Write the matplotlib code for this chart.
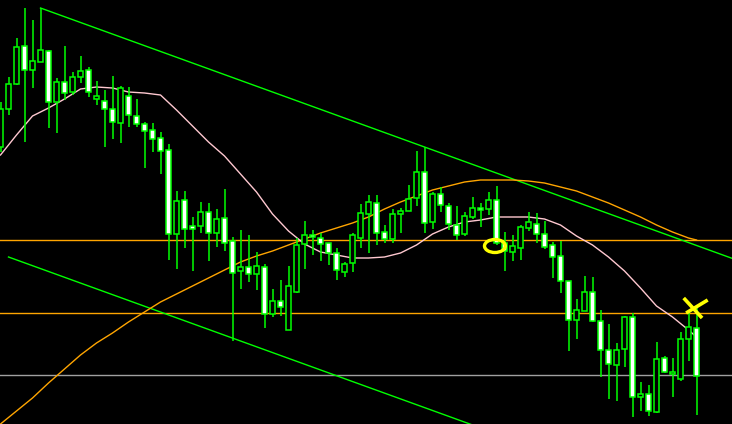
import numpy as np
import matplotlib
matplotlib.use("Agg")
import matplotlib.pyplot as plt
from matplotlib.patches import Ellipse

# candle data (points), oldest first
opens = [277, 315, 340, 378, 354, 362, 373, 322, 342, 332, 347, 354, 325, 323, 315, 301,
         328, 308, 300, 294, 286, 274, 190, 224, 198, 198, 212, 191, 206, 183, 153, 157,
         150, 157, 110, 123, 94, 132, 180, 189, 186, 181, 171, 152, 161, 186, 210, 221,
         192, 185, 210, 213, 226, 252, 202, 230, 218, 199, 190, 207, 216, 215, 224, 181,
         172, 176, 196, 200, 190, 179, 168, 143, 104, 113, 132, 103, 74, 59, 75, 107,
         27, 30, 12, 66, 50, 45, 85, 96]
highs = [322, 347, 386, 416, 404, 416, 374, 346, 378, 352, 368, 357, 343, 334, 348, 338,
         337, 325, 302, 301, 292, 280, 233, 233, 207, 222, 221, 215, 235, 187, 194, 189,
         172, 160, 135, 144, 158, 186, 203, 194, 191, 181, 176, 162, 191, 220, 229, 229,
         199, 215, 216, 239, 273, 277, 232, 237, 221, 218, 212, 227, 221, 232, 238, 192,
         189, 199, 212, 211, 203, 182, 183, 143, 125, 148, 147, 114, 100, 81, 108, 111,
         42, 39, 82, 68, 66, 92, 111, 119]
lows = [272, 309, 339, 282, 336, 362, 296, 291, 324, 329, 341, 327, 319, 277, 285, 281,
        297, 297, 256, 272, 250, 164, 155, 176, 153, 191, 163, 177, 173, 83, 135, 142,
        134, 96, 107, 108, 94, 131, 155, 169, 163, 159, 144, 147, 152, 176, 171, 179,
        181, 181, 191, 213, 218, 191, 195, 212, 194, 184, 188, 205, 197, 209, 179, 153,
        163, 164, 193, 181, 175, 146, 131, 73, 85, 113, 102, 47, 25, 23, 57, 7,
        13, 8, 11, 51, 27, 43, 63, 9]
closes = [315, 340, 377, 354, 363, 374, 322, 342, 331, 347, 353, 332, 328, 315, 302, 336,
          309, 300, 293, 285, 273, 190, 223, 195, 195, 212, 191, 205, 181, 151, 157, 150,
          158, 110, 123, 117, 138, 179, 189, 187, 180, 171, 154, 160, 189, 211, 222, 191,
          185, 210, 213, 225, 252, 201, 230, 219, 200, 189, 208, 216, 214, 224, 181, 173,
          178, 197, 202, 190, 177, 167, 143, 104, 114, 132, 103, 74, 60, 74, 107, 27,
          30, 13, 65, 52, 52, 85, 97, 48]

# moving averages (every second bar, plus the last one)
ma_bars = [0, 2, 4, 6, 8, 10, 12, 14, 16, 18, 20, 22, 24, 26, 28, 30, 32, 34, 36, 38, 40,
           42, 44, 46, 48, 50, 52, 54, 56, 58, 60, 62, 64, 66, 68, 70, 72, 74, 76, 78, 80,
           82, 84, 86, 87]
ma_fast = [269, 289, 308, 316, 325, 335, 337, 336, 332, 331, 329, 314, 298, 282, 268, 250,
           232, 210, 193, 180, 172, 169, 166, 166, 167, 171, 179, 190, 197, 202, 204, 207,
           207, 207, 205, 199, 188, 179, 167, 153, 136, 118, 107, 94, 87]
ma_slow = [0, 13, 26, 41, 55, 69, 81, 91, 102, 112, 122, 130, 138, 146, 154, 162, 168, 173,
           179, 185, 191, 196, 201, 207, 215, 222, 228, 234, 238, 242, 244, 244, 244, 243,
           241, 237, 233, 227, 221, 214, 207, 199, 192, 186, 184]

# horizontal levels
levels = [184, 111, 49]
level_colors = ["#FFA500", "#FFA500", "#A0A0A0"]

# channel: two points on the upper line, one point on the lower line
chan_top = [(5, 416), (53, 277)]
chan_low_start = (1, 167)

# markers
circle_at = (61.8, 178)
cross_a = [(85.4, 126), (87.7, 106)]
cross_b = [(88.4, 124), (85.7, 111)]

GREEN = "#00FF00"

fig = plt.figure(figsize=(7.32, 4.24), dpi=100, facecolor="black")
ax = fig.add_axes([0, 0, 1, 1])
ax.set_facecolor("black")
ax.set_axis_off()

x = np.arange(len(opens))
o = np.array(opens)
h = np.array(highs)
l = np.array(lows)
c = np.array(closes)

# levels
for lv, col in zip(levels, level_colors):
    ax.axhline(lv, color=col, linewidth=1, zorder=1)

# channel lines
(x0, y0), (x1, y1) = chan_top
slope = (y1 - y0) / (x1 - x0)
x_end = 100
ax.plot([x0, x_end], [y0, y0 + slope * (x_end - x0)], color=GREEN, linewidth=1, zorder=1)
lx, ly = chan_low_start
ax.plot([lx, x_end], [ly, ly + slope * (x_end - lx)], color=GREEN, linewidth=1, zorder=1)

# moving averages
ax.plot(ma_bars, ma_slow, color="#FFA500", linewidth=1, zorder=2)
ax.plot(ma_bars, ma_fast, color="#FFC8D0", linewidth=1, zorder=2)

# candles
ax.vlines(x, l, h, color=GREEN, linewidth=1.1, zorder=3)
bull = c >= o
body_lo = np.minimum(o, c)
body_h = np.maximum(np.abs(c - o), 1)
ax.bar(x, body_h, bottom=body_lo, width=0.55,
       color=np.where(bull, "black", "white"), edgecolor=GREEN, linewidth=1.1, zorder=4)

# yellow annotations
ax.add_patch(Ellipse(circle_at, width=2.6, height=13, fill=False,
                     edgecolor="#FFFF00", linewidth=2.4, zorder=5))
for seg in (cross_a, cross_b):
    ax.plot([p[0] for p in seg], [p[1] for p in seg], color="#FFFF00",
            linewidth=2.6, solid_capstyle="butt", zorder=5)

ax.set_xlim(-0.0625, 91.4375)
ax.set_ylim(0, 424)

plt.savefig("out.png", dpi=100, facecolor="black")
